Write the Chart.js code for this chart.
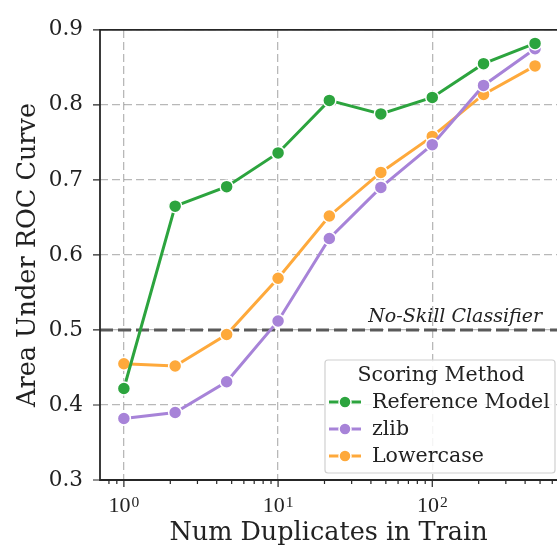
<!DOCTYPE html>
<html>
<head>
<meta charset="utf-8">
<script src="https://cdn.jsdelivr.net/npm/chart.js@4.4.1/dist/chart.umd.min.js"></script>
<style>
  html, body { margin: 0; padding: 0; background: #fff; overflow: hidden; }
  #wrap { width: 557px; height: 549px; }
  canvas { display: block; }
</style>
</head>
<body>
<div id="wrap"><canvas id="roc_chart"></canvas></div>
<script>
// values
var dupCounts = [1, 2.15, 4.64, 10, 21.5, 46.4, 100, 215, 464];
var refModel = [0.422, 0.665, 0.691, 0.736, 0.806, 0.788, 0.810, 0.855, 0.882];
var zlibScores = [0.382, 0.390, 0.431, 0.512, 0.622, 0.690, 0.747, 0.826, 0.875];
var lowercaseScores = [0.455, 0.452, 0.494, 0.569, 0.652, 0.710, 0.758, 0.814, 0.852];

var seriesNames = ['Reference Model', 'zlib', 'Lowercase'];
var seriesColors = ['#2ca43e', '#a783d8', '#fea93b'];

var yTicks = [0.3, 0.4, 0.5, 0.6, 0.7, 0.8, 0.9];
var xMajorTicks = [1, 10, 100];
var xMinorTicks = [0.8, 0.9, 2, 3, 4, 5, 6, 7, 8, 9, 20, 30, 40, 50, 60, 70, 80, 90, 200, 300, 400, 500, 600];

var noSkillValue = 0.5;
var noSkillLabel = 'No-Skill Classifier';
var legendTitle = 'Scoring Method';

var SERIF = "'DejaVu Serif', serif";
var MATH = "'Liberation Serif', serif";
var TEXT = '#222';

function toPoints(ys) {
    return dupCounts.map(function(x, i) { return { x: x, y: ys[i] }; });
}

function lineSet(label, ys, color) {
    return {
        label: label,
        data: toPoints(ys),
        borderColor: color,
        backgroundColor: color,
        borderWidth: 3,
        pointRadius: 6.5,
        pointHoverRadius: 6.5,
        pointBackgroundColor: color,
        pointBorderColor: '#fff',
        pointBorderWidth: 1.5,
        tension: 0,
        fill: false
    };
}

var Decor = {
    id: 'decor',

    beforeDatasetsDraw: function(chart) {
        var ctx = chart.ctx;
        var area = chart.chartArea;
        var y = chart.scales.y.getPixelForValue(noSkillValue);
        ctx.save();
        ctx.strokeStyle = '#5a5a5a';
        ctx.lineWidth = 3;
        ctx.setLineDash([13, 5]);
        ctx.beginPath();
        ctx.moveTo(area.left, y);
        ctx.lineTo(area.right, y);
        ctx.stroke();
        ctx.setLineDash([]);
        ctx.fillStyle = TEXT;
        ctx.font = 'italic 19px ' + SERIF;
        ctx.textAlign = 'right';
        ctx.textBaseline = 'alphabetic';
        ctx.fillText(noSkillLabel, area.right - 15, y - 8);
        ctx.restore();
    },

    afterDatasetsDraw: function(chart) {
        var ctx = chart.ctx;
        var area = chart.chartArea;
        var xs = chart.scales.x;
        var ys = chart.scales.y;
        ctx.save();

        // spines (left, bottom, top)
        ctx.strokeStyle = '#262626';
        ctx.lineWidth = 1.8;
        ctx.beginPath();
        ctx.moveTo(area.right, area.top);
        ctx.lineTo(area.left, area.top);
        ctx.lineTo(area.left, area.bottom);
        ctx.lineTo(area.right, area.bottom);
        ctx.stroke();

        // tick marks
        ctx.lineWidth = 1.2;
        ctx.beginPath();
        xMajorTicks.forEach(function(v) {
            var px = xs.getPixelForValue(v);
            ctx.moveTo(px, area.bottom);
            ctx.lineTo(px, area.bottom + 7);
        });
        xMinorTicks.forEach(function(v) {
            var px = xs.getPixelForValue(v);
            if (px < area.left || px > area.right) return;
            ctx.moveTo(px, area.bottom);
            ctx.lineTo(px, area.bottom + 4);
        });
        yTicks.forEach(function(v) {
            var py = ys.getPixelForValue(v);
            ctx.moveTo(area.left, py);
            ctx.lineTo(area.left - 7, py);
        });
        ctx.stroke();

        // x tick labels as 10^k
        ctx.fillStyle = TEXT;
        ctx.textAlign = 'left';
        ctx.textBaseline = 'alphabetic';
        xMajorTicks.forEach(function(v) {
            var px = xs.getPixelForValue(v);
            var base = '10';
            var exp = String(Math.round(Math.log10(v)));
            ctx.font = '22px ' + MATH;
            var w1 = ctx.measureText(base).width;
            ctx.font = '15.5px ' + MATH;
            var w2 = ctx.measureText(exp).width;
            var x0 = px - (w1 + w2 + 1) / 2;
            ctx.font = '22px ' + MATH;
            ctx.fillText(base, x0, area.bottom + 32);
            ctx.font = '15.5px ' + MATH;
            ctx.fillText(exp, x0 + w1 + 1, area.bottom + 27);
        });

        // legend
        var w = 230, h = 113;
        var lx = area.right - 2 - w;
        var ly = area.bottom - 7 - h;
        ctx.fillStyle = 'rgba(255,255,255,0.85)';
        ctx.strokeStyle = '#d0d0d0';
        ctx.lineWidth = 1.2;
        ctx.beginPath();
        ctx.roundRect(lx, ly, w, h, 3);
        ctx.fill();
        ctx.stroke();

        ctx.fillStyle = TEXT;
        ctx.font = '20.5px ' + SERIF;
        ctx.textAlign = 'center';
        ctx.textBaseline = 'middle';
        ctx.fillText(legendTitle, lx + w / 2 + 1, ly + 16);

        chart.data.datasets.forEach(function(ds, i) {
            var cy = ly + 42 + i * 27;
            ctx.strokeStyle = ds.borderColor;
            ctx.lineWidth = 3;
            ctx.beginPath();
            ctx.moveTo(lx + 4, cy);
            ctx.lineTo(lx + 36, cy);
            ctx.stroke();
            ctx.beginPath();
            ctx.arc(lx + 20, cy, 6, 0, Math.PI * 2);
            ctx.fillStyle = ds.borderColor;
            ctx.fill();
            ctx.strokeStyle = '#fff';
            ctx.lineWidth = 1.5;
            ctx.stroke();
            ctx.fillStyle = TEXT;
            ctx.textAlign = 'left';
            ctx.fillText(ds.label, lx + 47, cy + 1);
        });

        ctx.restore();
    }
};

var chart = new Chart(document.getElementById('roc_chart'), {
    type: 'line',
    data: {
        datasets: [
            lineSet(seriesNames[0], refModel, seriesColors[0]),
            lineSet(seriesNames[1], zlibScores, seriesColors[1]),
            lineSet(seriesNames[2], lowercaseScores, seriesColors[2])
        ]
    },
    options: {
        responsive: true,
        maintainAspectRatio: false,
        animation: false,
        layout: { autoPadding: false, padding: { top: 18, right: 0, left: 0, bottom: 0 } },
        plugins: {
            legend: { display: false },
            tooltip: { enabled: false }
        },
        scales: {
            x: {
                type: 'logarithmic',
                min: 0.71,
                max: 644,
                afterBuildTicks: function(scale) {
                    scale.ticks = xMajorTicks.map(function(v) { return { value: v }; });
                },
                afterFit: function(scale) {
                    scale.height = 69;
                    scale.paddingLeft = 0;
                    scale.paddingRight = 0;
                },
                ticks: { display: false, autoSkip: false, maxRotation: 0 },
                grid: {
                    drawTicks: false,
                    color: 'rgba(0,0,0,0.28)',
                    lineWidth: 1.3
                },
                border: { display: false, dash: [8, 4] },
                title: {
                    display: true,
                    text: 'Num Duplicates in Train',
                    color: TEXT,
                    font: { family: SERIF, size: 25.5 },
                    padding: { top: 0, bottom: 0 }
                }
            },
            y: {
                min: 0.3,
                max: 0.9,
                afterBuildTicks: function(scale) {
                    scale.ticks = yTicks.map(function(v) { return { value: v }; });
                },
                afterFit: function(scale) { scale.width = 100; },
                ticks: {
                    padding: 17,
                    color: TEXT,
                    font: { family: SERIF, size: 21.5 },
                    callback: function(v) { return v.toFixed(1); }
                },
                grid: {
                    drawTicks: false,
                    color: 'rgba(0,0,0,0.28)',
                    lineWidth: 1.3
                },
                border: { display: false, dash: [8, 4] },
                title: {
                    display: true,
                    text: 'Area Under ROC Curve',
                    color: TEXT,
                    font: { family: SERIF, size: 25.5 },
                    padding: { top: 13, bottom: 0 }
                }
            }
        }
    },
    plugins: [Decor]
});
</script>
</body>
</html>
